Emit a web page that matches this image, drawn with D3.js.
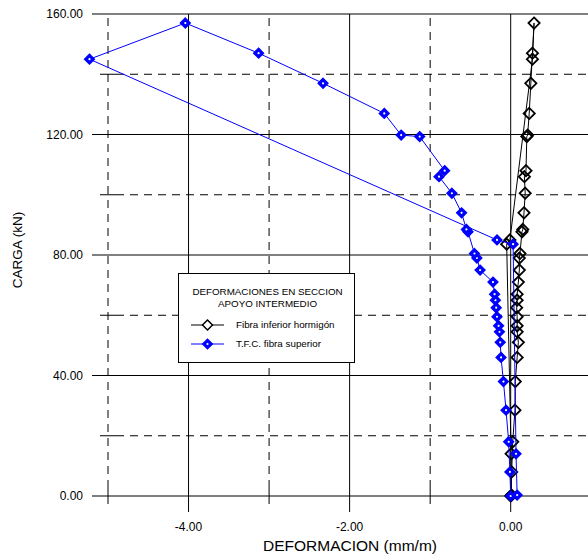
<!doctype html>
<html lang="es">
<head>
<meta charset="utf-8">
<title>Deformaciones en seccion apoyo intermedio</title>
<script src="https://cdn.jsdelivr.net/npm/d3@7"></script>
<style>
  body { margin: 0; background: #fff; }
  svg { display: block; font-family: "Liberation Sans", Arial, sans-serif; }
</style>
</head>
<body>
<div id="chart"></div>
<script>
// load steps (kN), shared by both gauges
var carga = [0, 8, 18, 28.5, 38, 46, 51, 54.5, 56.5, 59.5, 62.5, 65, 67, 71, 75, 79, 80.5,
             87.7, 88.5, 94, 100.5, 106, 108, 119.3, 119.8, 127, 137, 147, 157, 145,
             85, 83.6, 14, 0.3];

// strain (mm/m)
var fibraInferior = [0.0, 0.012, 0.025, 0.053, 0.057, 0.08, 0.095, 0.08, 0.08, 0.08, 0.074, 0.08,
                     0.08, 0.095, 0.107, 0.107, 0.115, 0.14, 0.15, 0.165, 0.18, 0.17, 0.19, 0.2,
                     0.21, 0.23, 0.25, 0.27, 0.29, 0.27, -0.01, -0.05, 0.005, 0.01];
var tfcSuperior = [0.0, -0.01, -0.025, -0.058, -0.09, -0.12, -0.13, -0.14, -0.15, -0.17, -0.18,
                   -0.19, -0.2, -0.22, -0.38, -0.42, -0.45, -0.53, -0.55, -0.61, -0.73, -0.89,
                   -0.82, -1.13, -1.36, -1.57, -2.33, -3.13, -4.04, -5.23, -0.17, 0.03, 0.066, 0.08];

var xMajor = [-4, -2, 0];
var xMinor = [-5, -3, -1];
var yMajor = [0, 40, 80, 120, 160];
var yMinor = [20, 60, 100, 140];

var legendTitle = ["DEFORMACIONES EN SECCION", "APOYO INTERMEDIO"];
var seriesNames = ["Fibra inferior hormigón", "T.F.C. fibra superior"];

var W = 588, H = 558;
var svg = d3.select("#chart").append("svg").attr("width", W).attr("height", H);

var x = d3.scaleLinear().domain([-5, 1]).range([108, 108 + 6 * 80.54]);
var y = d3.scaleLinear().domain([0, 160]).range([496, 14]);

var fmt = function(v) { return d3.format(".2f")(v).replace("\u2212", "-"); };

var x0 = x(-5), yTop = y(160), yBot = y(0), xRight = W + 10;

// grid: dashed minors
var grid = svg.append("g").attr("stroke", "#000").attr("stroke-width", 1).attr("fill", "none");
grid.selectAll(".hmin").data(yMinor).enter().append("line")
    .attr("x1", x0 + 8).attr("x2", xRight)
    .attr("y1", function(d) { return y(d); }).attr("y2", function(d) { return y(d); })
    .attr("stroke-dasharray", "8,6");
grid.selectAll(".vmin").data(xMinor).enter().append("line")
    .attr("x1", function(d) { return x(d); }).attr("x2", function(d) { return x(d); })
    .attr("y1", yBot - 8).attr("y2", yTop)
    .attr("stroke-dasharray", "8,6");

// minor ticks (solid, both sides of axis)
grid.selectAll(".ymt").data(yMinor).enter().append("line")
    .attr("x1", x0 - 8).attr("x2", x0 + 8)
    .attr("y1", function(d) { return y(d); }).attr("y2", function(d) { return y(d); });
grid.selectAll(".xmt").data(xMinor).enter().append("line")
    .attr("x1", function(d) { return x(d); }).attr("x2", function(d) { return x(d); })
    .attr("y1", yBot - 8).attr("y2", yBot + 8);

// solid majors, extended out as ticks
grid.selectAll(".hmaj").data(yMajor).enter().append("line")
    .attr("x1", x0 - 16).attr("x2", xRight)
    .attr("y1", function(d) { return y(d); }).attr("y2", function(d) { return y(d); });
grid.selectAll(".vmaj").data(xMajor).enter().append("line")
    .attr("x1", function(d) { return x(d); }).attr("x2", function(d) { return x(d); })
    .attr("y1", yBot + 16).attr("y2", yTop);

// tick labels
svg.selectAll(".ylab").data(yMajor).enter().append("text")
    .attr("x", x0 - 25).attr("y", function(d) { return y(d); })
    .attr("dy", "0.35em").attr("text-anchor", "end")
    .attr("font-size", 12).text(fmt);
svg.selectAll(".xlab").data(xMajor).enter().append("text")
    .attr("x", function(d) { return x(d); }).attr("y", 531)
    .attr("text-anchor", "middle").attr("font-size", 12).text(fmt);

// axis titles
svg.append("text").attr("x", 350).attr("y", 551).attr("text-anchor", "middle")
    .attr("font-size", 15.5).text("DEFORMACION (mm/m)");
svg.append("text").attr("transform", "translate(22,250) rotate(-90)")
    .attr("text-anchor", "middle").attr("font-size", 13.5).text("CARGA (kN)");

// series
var diamond = function(r) { return "M0," + (-r) + "L" + r + ",0L0," + r + "L" + (-r) + ",0Z"; };

function drawSeries(vals, color, filled, r, sw) {
  var pts = vals.map(function(v, i) { return [x(v), y(carga[i])]; });
  var g = svg.append("g");
  g.append("path").attr("d", d3.line()(pts))
    .attr("fill", "none").attr("stroke", color).attr("stroke-width", 1);
  var m = g.selectAll(".m").data(pts).enter().append("g")
    .attr("transform", function(d) { return "translate(" + d[0] + "," + d[1] + ")"; });
  m.append("path").attr("d", diamond(r))
    .attr("fill", filled ? color : "#fff").attr("fill-opacity", filled ? 1 : 0)
    .attr("stroke", color).attr("stroke-width", sw);
  if (filled) m.append("circle").attr("r", 1.1).attr("fill", "#fff");
}
drawSeries(fibraInferior, "#000", false, 5.6, 1.8);
drawSeries(tfcSuperior, "#0000ff", true, 4.8, 1.6);

// legend
var lg = svg.append("g");
lg.append("rect").attr("x", 178.5).attr("y", 273.5).attr("width", 176).attr("height", 89)
  .attr("fill", "#fff").attr("stroke", "#000").attr("stroke-width", 1);
lg.selectAll(".lt").data(legendTitle).enter().append("text")
  .attr("x", 267.5).attr("y", function(d, i) { return 295 + i * 11.5; })
  .attr("text-anchor", "middle").attr("font-size", 9.8).text(function(d) { return d; });
var items = [{ c: "#000", f: false }, { c: "#0000ff", f: true }];
items.forEach(function(it, i) {
  var yy = 325 + i * 19;
  lg.append("line").attr("x1", 191).attr("x2", 224).attr("y1", yy).attr("y2", yy)
    .attr("stroke", it.c).attr("stroke-width", 1);
  lg.append("path").attr("transform", "translate(207.5," + yy + ")").attr("d", diamond(it.f ? 4.8 : 5))
    .attr("fill", it.f ? it.c : "#fff").attr("stroke", it.c).attr("stroke-width", 1.5);
  if (it.f) lg.append("circle").attr("cx", 207.5).attr("cy", yy).attr("r", 1.1).attr("fill", "#fff");
  lg.append("text").attr("x", 236).attr("y", yy).attr("dy", "0.35em")
    .attr("font-size", 9.8).text(seriesNames[i]);
});
</script>
</body>
</html>
